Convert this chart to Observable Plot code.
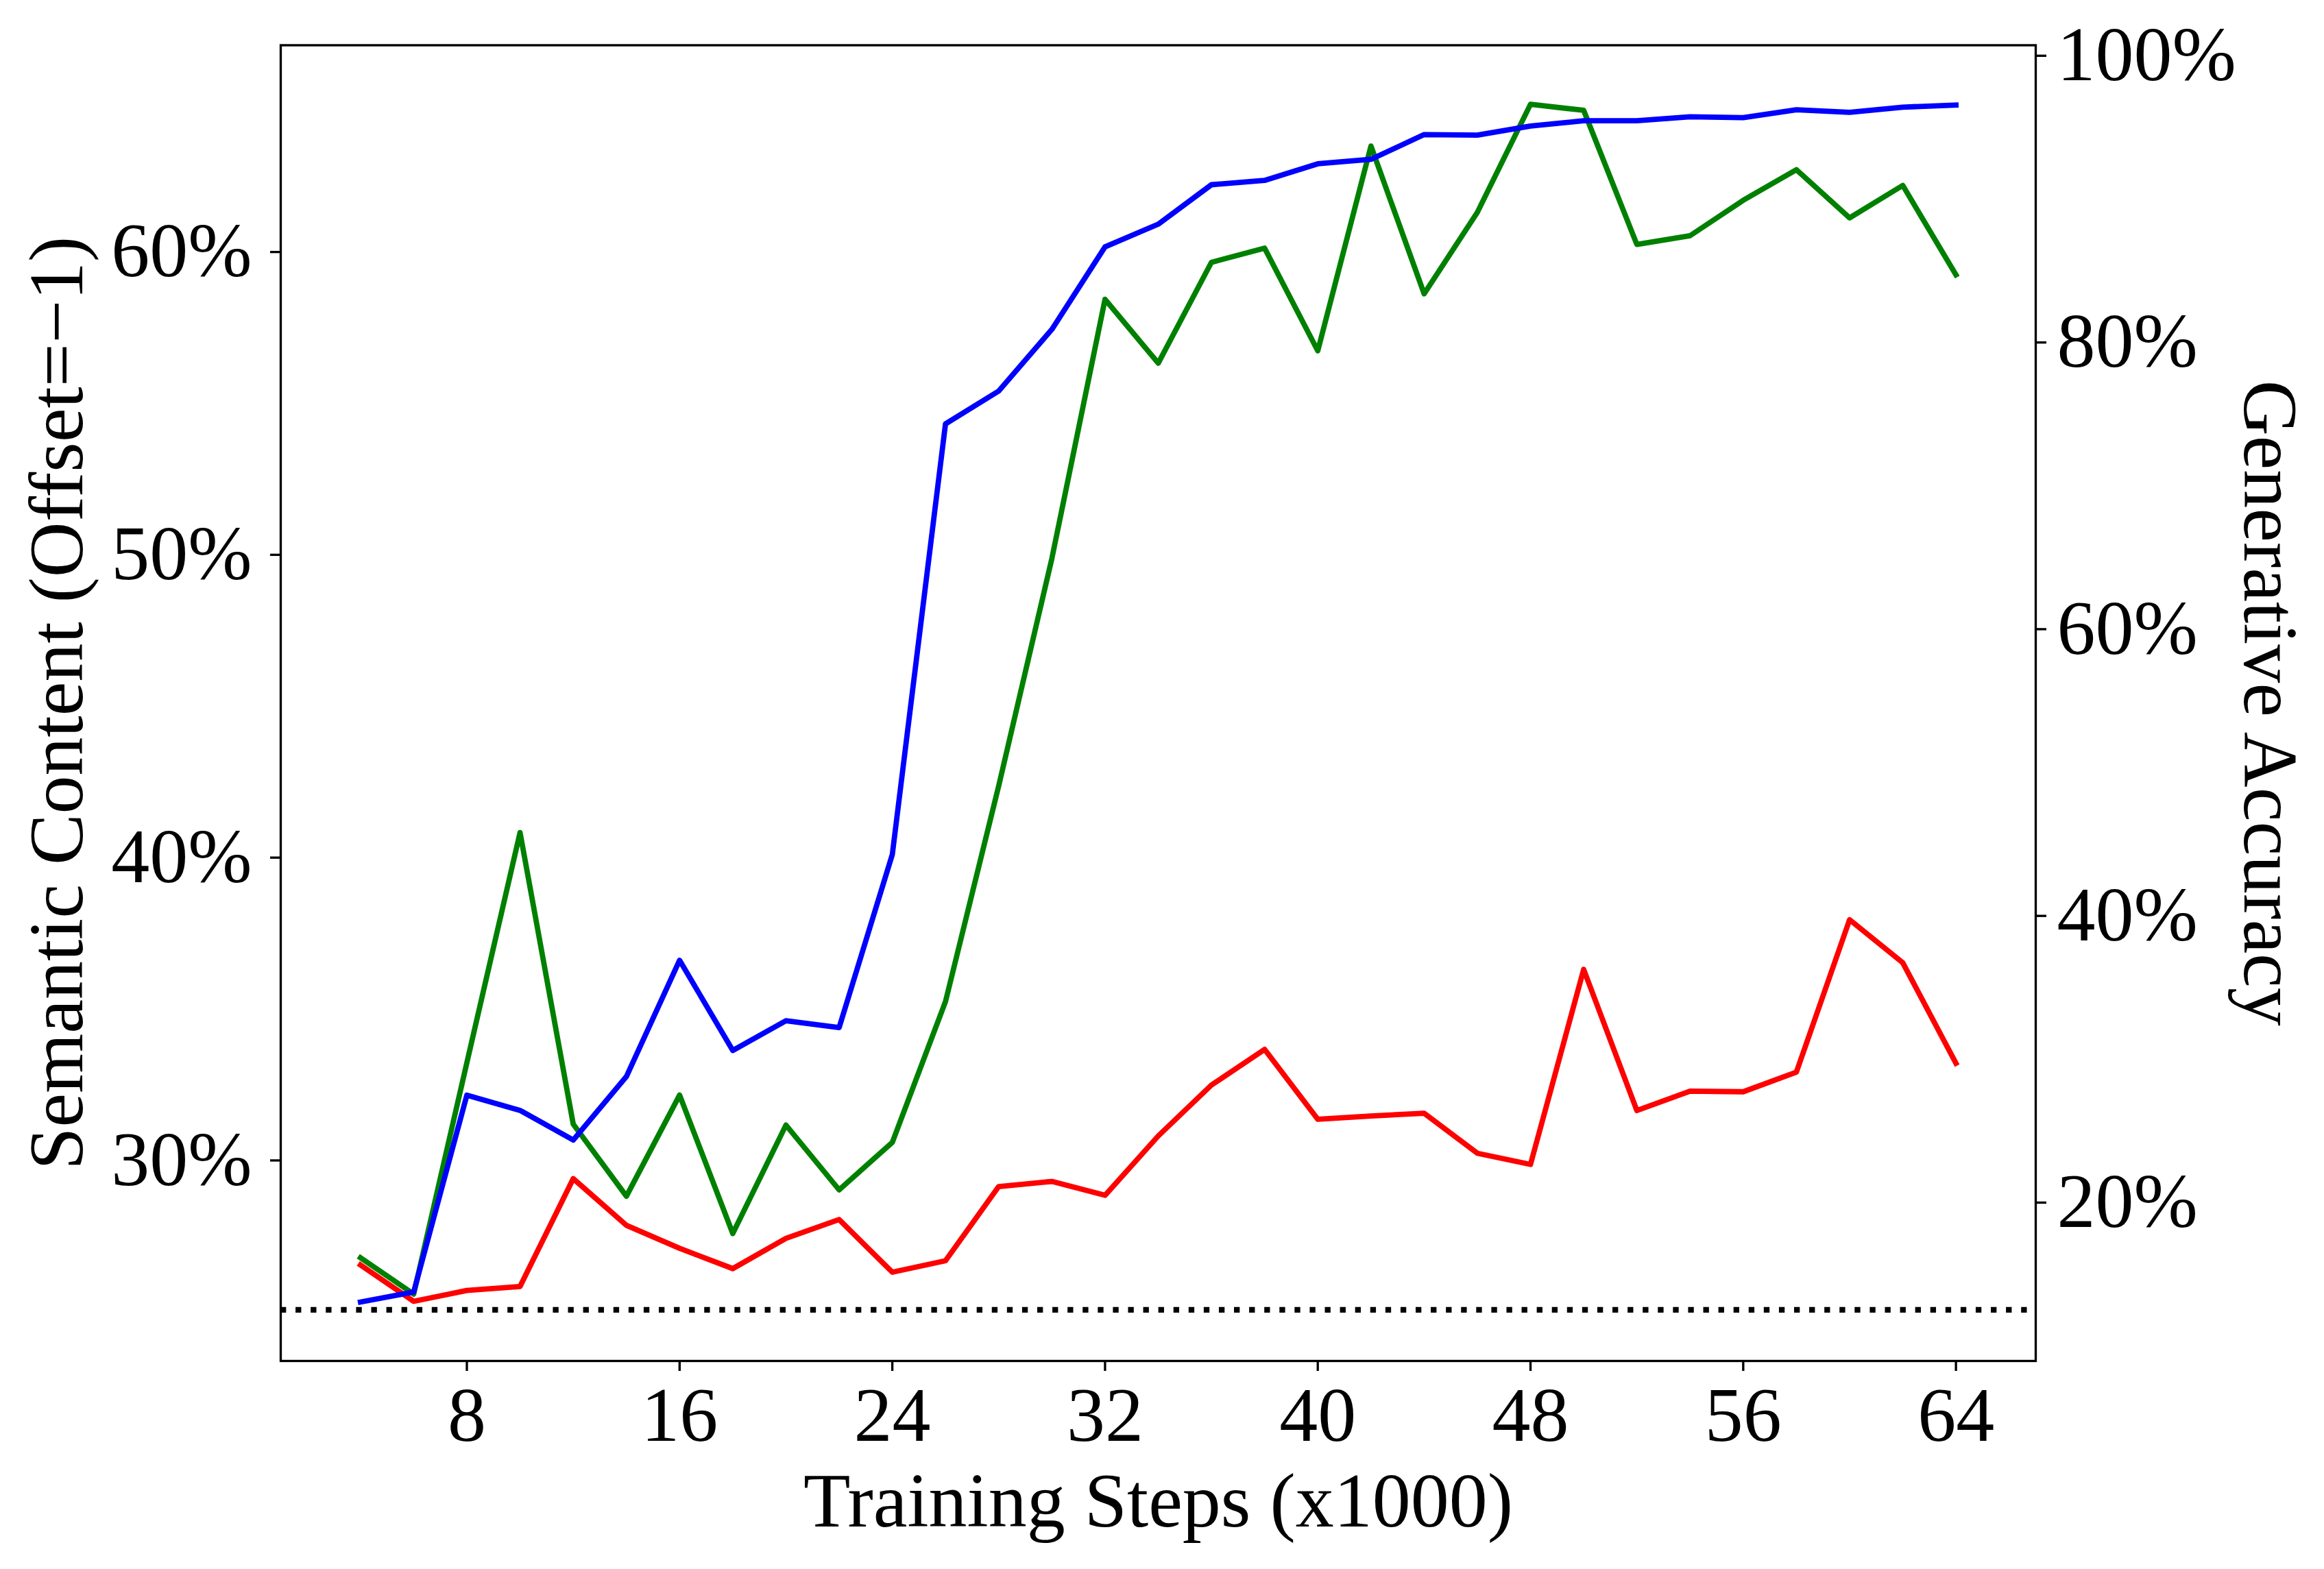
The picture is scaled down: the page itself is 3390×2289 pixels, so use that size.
<!DOCTYPE html>
<html>
<head>
<meta charset="utf-8">
<script src="https://cdn.jsdelivr.net/npm/d3@7"></script>
<script src="https://cdn.jsdelivr.net/npm/@observablehq/plot@0.6"></script>
<style>
  html, body { margin: 0; padding: 0; background: white; overflow: hidden; }
  #chart svg { display: block; }
</style>
</head>
<body>
<div id="chart"></div>
<script>
// Training steps (x1000)
const steps = [4, 6, 8, 10, 12, 14, 16, 18, 20, 22, 24, 26, 28, 30, 32, 34, 36, 38, 40, 42, 44, 46, 48, 50, 52, 54, 56, 58, 60, 62, 64];

// Semantic content (left axis, %)
const greenSeries = [26.72, 25.52, 33.16, 40.76, 31.13, 28.75, 32.09, 27.52, 31.10, 28.96, 30.53, 35.18, 42.3, 49.81, 58.37, 56.26, 59.59, 60.06, 56.67, 63.43, 58.55, 61.24, 64.81, 64.61, 60.18, 60.47, 61.64, 62.65, 61.06, 62.13, 59.18];
const redSeries = [26.48, 25.28, 25.64, 25.77, 29.33, 27.79, 27.03, 26.36, 27.36, 27.98, 26.24, 26.62, 29.07, 29.24, 28.78, 30.74, 32.42, 33.60, 31.29, 31.40, 31.49, 30.17, 29.80, 36.24, 31.58, 32.22, 32.20, 32.85, 37.88, 36.46, 33.14];

// Generative accuracy (right axis, %)
const blueSeries = [12.92, 13.62, 27.35, 26.29, 24.22, 28.65, 36.76, 30.47, 32.54, 32.07, 44.14, 74.18, 76.47, 80.77, 86.53, 88.11, 90.86, 91.16, 92.32, 92.63, 94.36, 94.32, 94.95, 95.32, 95.32, 95.60, 95.54, 96.09, 95.91, 96.27, 96.42];

// Chance level (left axis)
const chanceLevel = [25];

// Tick labels
const xTicks = [8, 16, 24, 32, 40, 48, 56, 64];
const leftTicks = [30, 40, 50, 60];
const rightTicks = [20, 40, 60, 80, 100];

// Axis domains
const xDomain = [1, 67];
const leftDomain = [23.31, 66.76];
const rightDomain = [8.81, 100.59];

const leftLabel = "Semantic Content (Offset=\u22121)";
const rightLabel = "Generative Accuracy";
const xLabel = "Training Steps (x1000)";

// map right-axis values into left-axis coordinates (twin axis)
const toLeft = r => leftDomain[0] + (r - rightDomain[0]) / (rightDomain[1] - rightDomain[0]) * (leftDomain[1] - leftDomain[0]);
const fromLeft = l => rightDomain[0] + (l - leftDomain[0]) / (leftDomain[1] - leftDomain[0]) * (rightDomain[1] - rightDomain[0]);

const greenData = steps.map((s, i) => ({step: s, v: greenSeries[i]}));
const redData = steps.map((s, i) => ({step: s, v: redSeries[i]}));
const blueData = steps.map((s, i) => ({step: s, v: toLeft(blueSeries[i])}));

const FONT = "'Liberation Serif', 'Times New Roman', Times, serif";
const FS = 112;
const LW = 7.8;
const AXW = 3.33;

const lineOpts = {x: "step", y: "v", strokeWidth: LW, strokeLinejoin: "round", strokeLinecap: "square"};

const chart = Plot.plot({
  width: 3390,
  height: 2289,
  marginLeft: 409,
  marginRight: 421,
  marginTop: 65.5,
  marginBottom: 304,
  style: {fontFamily: FONT, fontSize: FS + "px", background: "white", color: "black"},
  x: {domain: xDomain},
  y: {domain: leftDomain},
  marks: [
    Plot.ruleY(chanceLevel, {stroke: "black", strokeWidth: 8.33, strokeDasharray: "8.33,13.75"}),
    Plot.line(redData, {...lineOpts, stroke: "#ff0000"}),
    Plot.line(greenData, {...lineOpts, stroke: "#008000"}),
    Plot.line(blueData, {...lineOpts, stroke: "#0000ff"}),
    Plot.frame({stroke: "black", strokeWidth: AXW}),
    Plot.axisX(xTicks, {anchor: "bottom", tickSize: 15, tickPadding: 22, strokeWidth: AXW, label: null, fontSize: FS, fontFamily: FONT}),
    Plot.axisY(leftTicks, {anchor: "left", tickSize: 15, tickPadding: 27, strokeWidth: AXW, label: null, fontSize: FS, fontFamily: FONT, dy: 3, tickFormat: d => d + "%"}),
    Plot.axisY(rightTicks.map(toLeft), {anchor: "right", tickSize: 15, tickPadding: 16, strokeWidth: AXW, label: null, fontSize: FS, fontFamily: FONT, dy: 3, tickFormat: d => Math.round(fromLeft(d)) + "%"}),
    Plot.text([leftLabel], {frameAnchor: "left", dx: -290, rotate: -90, textAnchor: "middle", lineAnchor: "bottom", text: d => d, fontSize: FS, fontFamily: FONT, fill: "black"}),
    Plot.text([rightLabel], {frameAnchor: "right", dx: 304, rotate: 90, textAnchor: "middle", lineAnchor: "bottom", text: d => d, fontSize: FS, fontFamily: FONT, fill: "black"}),
    Plot.text([xLabel], {frameAnchor: "bottom", dy: 241, textAnchor: "middle", lineAnchor: "bottom", text: d => d, fontSize: FS, fontFamily: FONT, fill: "black"})
  ]
});
document.getElementById("chart").appendChild(chart);
</script>
</body>
</html>
